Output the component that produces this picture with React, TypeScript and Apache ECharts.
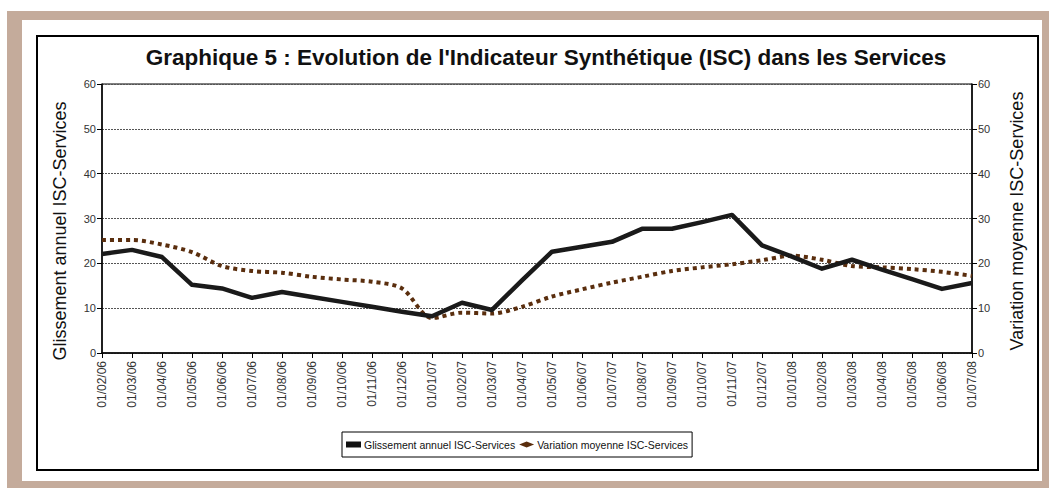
import React, { useEffect, useRef } from "react";
import * as echarts from "echarts";

const categories = [
  "01/02/06", "01/03/06", "01/04/06", "01/05/06", "01/06/06", "01/07/06",
  "01/08/06", "01/09/06", "01/10/06", "01/11/06", "01/12/06", "01/01/07",
  "01/02/07", "01/03/07", "01/04/07", "01/05/07", "01/06/07", "01/07/07",
  "01/08/07", "01/09/07", "01/10/07", "01/11/07", "01/12/07", "01/01/08",
  "01/02/08", "01/03/08", "01/04/08", "01/05/08", "01/06/08", "01/07/08",
];

const glissement = [
  22.1, 23.0, 21.4, 15.2, 14.4, 12.3, 13.6, 12.5, 11.4, 10.3, 9.2, 8.2,
  11.2, 9.6, 16.2, 22.6, 23.7, 24.8, 27.7, 27.7, 29.2, 30.8, 24.0, 21.5,
  18.8, 20.8, 18.6, 16.5, 14.3, 15.6,
];

const variation = [
  25.2, 25.2, 24.2, 22.5, 19.4, 18.3, 17.9, 17.0, 16.4, 15.9, 14.4, 7.8,
  9.0, 8.8, 10.3, 12.6, 14.2, 15.7, 17.0, 18.3, 19.1, 19.8, 20.7, 21.7,
  20.8, 19.4, 19.1, 18.7, 18.1, 17.2,
];

const TITLE = "Graphique 5 : Evolution de l'Indicateur Synthétique (ISC) dans les Services";
const LEFT_NAME = "Glissement annuel ISC-Services";
const RIGHT_NAME = "Variation moyenne ISC-Services";

const FONT = "Liberation Sans, Arial, sans-serif";

export default function App() {
  const ref = useRef<HTMLDivElement>(null);
  useEffect(() => {
    document.body.style.margin = "0";
    const chart = echarts.init(ref.current!, undefined, { renderer: "svg" });
    const axisLabel = { fontSize: 11, color: "#333", fontFamily: FONT };
    const yAxisCommon = {
      type: "value",
      min: 0,
      max: 60,
      interval: 10,
      axisLine: { show: true, lineStyle: { color: "#000", width: 1.5 } },
      axisTick: { show: true, length: 5, lineStyle: { color: "#000" } },
    };
    chart.setOption({
      animation: false,
      backgroundColor: "#fff",
      graphic: [
        { type: "rect", shape: { x: 7, y: 11, width: 1042, height: 477 }, style: { fill: "#c4ab9b" }, z: -10 },
        { type: "rect", shape: { x: 22, y: 20, width: 1020, height: 461 }, style: { fill: "#fff" }, z: -9 },
        { type: "rect", shape: { x: 37, y: 36, width: 1001, height: 434 }, style: { fill: "#fff", stroke: "#000", lineWidth: 2 }, z: -8 },
        {
          type: "text",
          x: 546,
          y: 57,
          style: { text: TITLE, fontSize: 22.5, fontWeight: "bold", fill: "#111", fontFamily: FONT, align: "center", verticalAlign: "middle" },
        },
        {
          type: "text",
          x: 60,
          y: 231,
          rotation: Math.PI / 2,
          style: { text: LEFT_NAME, fontSize: 18, fill: "#111", fontFamily: FONT, align: "center", verticalAlign: "middle" },
        },
        {
          type: "text",
          x: 1017,
          y: 221,
          rotation: Math.PI / 2,
          style: { text: RIGHT_NAME, fontSize: 18, fill: "#111", fontFamily: FONT, align: "center", verticalAlign: "middle" },
        },
      ],
      grid: { left: 102, top: 84, right: 77, bottom: 135, show: true, borderColor: "#000", borderWidth: 1 },
      legend: {
        left: 342,
        top: 432,
        itemWidth: 15,
        itemHeight: 6,
        itemGap: 4,
        padding: [7, 4],
        borderColor: "#000",
        borderWidth: 1,
        borderRadius: 0,
        textStyle: { fontSize: 10.5, color: "#111", fontFamily: FONT, padding: [0, 0, 0, -2] },
        data: [
          { name: LEFT_NAME, icon: "rect", itemStyle: { color: "#111" } },
          { name: RIGHT_NAME, icon: "diamond", itemStyle: { color: "#5a2e0e" } },
        ],
      },
      xAxis: {
        type: "category",
        data: categories,
        boundaryGap: false,
        axisLine: { lineStyle: { color: "#000", width: 1.5 } },
        axisTick: { show: true, length: 5, interval: 0, lineStyle: { color: "#000" } },
        axisLabel: { ...axisLabel, fontSize: 12, rotate: 90, interval: 0, margin: 8 },
        splitLine: { show: false },
      },
      yAxis: [
        {
          ...yAxisCommon,
          position: "left",
          axisLabel: { ...axisLabel, margin: 6 },
          splitLine: { show: true, lineStyle: { color: "#555", type: [2, 1], width: 1 } },
        },
        {
          ...yAxisCommon,
          position: "right",
          axisLabel: { ...axisLabel, margin: 6 },
          splitLine: { show: false },
        },
      ],
      series: [
        {
          name: LEFT_NAME,
          type: "line",
          yAxisIndex: 0,
          data: glissement,
          showSymbol: false,
          symbol: "none",
          lineStyle: { color: "#1a1a1a", width: 4.5, join: "round" },
          itemStyle: { color: "#1a1a1a" },
          z: 3,
        },
        {
          name: RIGHT_NAME,
          type: "line",
          yAxisIndex: 1,
          data: variation,
          smooth: 0.3,
          showSymbol: false,
          symbol: "none",
          lineStyle: { color: "#5a2e0e", width: 4, type: [4, 4], cap: "butt" },
          itemStyle: { color: "#5a2e0e" },
          z: 2,
        },
      ],
    });
    return () => chart.dispose();
  }, []);
  return <div ref={ref} style={{ position: "fixed", left: 0, top: 0, width: 1049, height: 488 }} />;
}
